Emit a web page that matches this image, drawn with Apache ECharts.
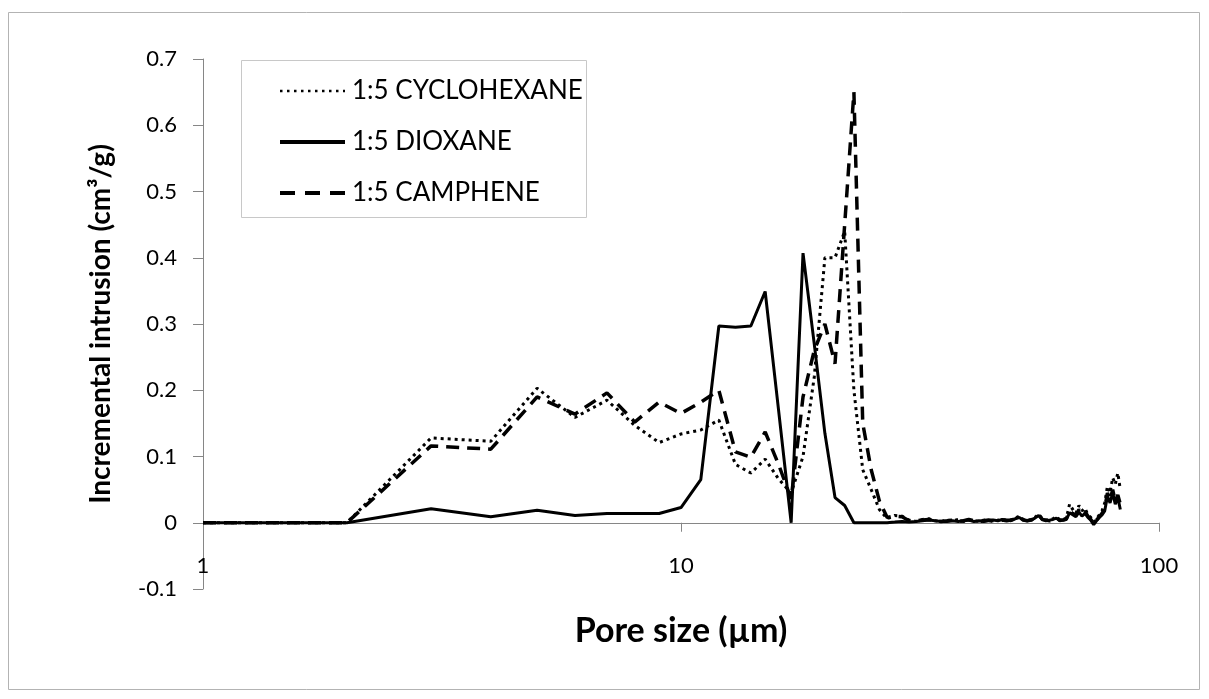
<!DOCTYPE html>
<html>
<head>
<meta charset="utf-8">
<script src="https://cdn.jsdelivr.net/npm/echarts@6/dist/echarts.min.js"></script>
<style>
  html, body { margin: 0; padding: 0; background: #fff; }
  #main { width: 1209px; height: 699px; }
</style>
</head>
<body>
<div id="main"></div>
<script>
// pore size (µm), one point per micron
var poreSize = [1, 2, 3, 4, 5, 6, 7, 8, 9, 10,
    11, 12, 13, 14, 15, 16, 17, 18, 19, 20,
    21, 22, 23, 24, 25, 26, 27, 28, 29, 30,
    31, 32, 33, 34, 35, 36, 37, 38, 39, 40,
    41, 42, 43, 44, 45, 46, 47, 48, 49, 50,
    51, 52, 53, 54, 55, 56, 57, 58, 59, 60,
    61, 62, 63, 64, 65, 66, 67, 68, 69, 70,
    71, 72, 73, 74, 75, 76, 77, 78, 79, 80,
    81, 82, 83];

var cyclohexane = [0, 0, 0.128, 0.123, 0.203, 0.159, 0.185, 0.147, 0.121, 0.134,
    0.140, 0.155, 0.088, 0.075, 0.096, 0.066, 0.045, 0.100, 0.220, 0.400,
    0.400, 0.440, 0.200, 0.080, 0.050, 0.020, 0.006, 0.011, 0.010, 0.004,
    0.002, 0.005, 0.006, 0.003, 0.002, 0.004, 0.003, 0.005, 0.002, 0.004,
    0.003, 0.002, 0.004, 0.003, 0.002, 0.004, 0.003, 0.005, 0.004, 0.007,
    0.010, 0.005, 0.003, 0.005, 0.008, 0.013, 0.006, 0.004, 0.005, 0.006,
    0.009, 0.004, 0.005, 0.007, 0.028, 0.020, 0.014, 0.026, 0.018, 0.022,
    0.012, 0.008, 0.001, 0.006, 0.012, 0.018, 0.030, 0.055, 0.045, 0.068,
    0.058, 0.075, 0.050];

var dioxane = [0, 0, 0.021, 0.009, 0.019, 0.011, 0.014, 0.014, 0.014, 0.023,
    0.065, 0.297, 0.295, 0.297, 0.349, 0.170, 0, 0.407, 0.270, 0.135,
    0.038, 0.026, 0, 0, 0, 0, 0, 0.001, 0.002, 0.001,
    0.002, 0.003, 0.004, 0.003, 0.002, 0.002, 0.003, 0.002, 0.003, 0.004,
    0.002, 0.003, 0.002, 0.003, 0.004, 0.003, 0.005, 0.004, 0.003, 0.006,
    0.008, 0.004, 0.003, 0.004, 0.007, 0.011, 0.005, 0.003, 0.004, 0.005,
    0.007, 0.003, 0.004, 0.005, 0.015, 0.012, 0.009, 0.016, 0.010, 0.014,
    0.008, 0.004, -0.003, 0.003, 0.008, 0.012, 0.018, 0.040, 0.030, 0.045,
    0.028, 0.038, 0.020];

var camphene = [0, 0, 0.116, 0.111, 0.190, 0.164, 0.196, 0.152, 0.182, 0.165,
    0.182, 0.200, 0.107, 0.099, 0.137, 0.088, 0.036, 0.190, 0.260, 0.300,
    0.240, 0.450, 0.650, 0.150, 0.080, 0.033, 0.008, 0.010, 0.009, 0.003,
    0.003, 0.004, 0.005, 0.003, 0.002, 0.003, 0.004, 0.002, 0.003, 0.005,
    0.003, 0.002, 0.003, 0.004, 0.003, 0.002, 0.004, 0.003, 0.004, 0.006,
    0.009, 0.004, 0.003, 0.004, 0.007, 0.012, 0.005, 0.004, 0.003, 0.005,
    0.008, 0.004, 0.004, 0.006, 0.018, 0.014, 0.011, 0.020, 0.013, 0.017,
    0.010, 0.005, -0.002, 0.004, 0.009, 0.014, 0.022, 0.045, 0.034, 0.050,
    0.032, 0.042, 0.028];

var seriesNames = ['1:5 CYCLOHEXANE', '1:5 DIOXANE', '1:5 CAMPHENE'];

var pairs = function (vals) {
    return poreSize.map(function (x, i) { return [x, vals[i]]; });
};

var font = 'Lato, "Open Sans", sans-serif';
var axisGray = '#868686';

var myChart = echarts.init(document.getElementById('main'));
myChart.setOption({
    animation: false,
    backgroundColor: '#fff',
    textStyle: { fontFamily: font },
    graphic: [
        // outer chart frame
        { type: 'rect', shape: { x: 8.5, y: 12.5, width: 1191, height: 677 },
          style: { fill: 'none', stroke: '#b3b3b3', lineWidth: 1 }, silent: true },
        // legend frame
        { type: 'rect', shape: { x: 241.5, y: 60.5, width: 345, height: 157 },
          style: { fill: '#fff', stroke: '#c8c8c8', lineWidth: 1 }, silent: true, z: 5 }
    ],
    grid: { left: 203, right: 50, top: 59, bottom: 110, containLabel: false, outerBoundsMode: 'none' },
    legend: {
        data: [
            { name: seriesNames[0], lineStyle: { width: 2.5, type: [2.5, 4.5] } },
            { name: seriesNames[1], lineStyle: { width: 4 } },
            { name: seriesNames[2], lineStyle: { width: 4, type: [15, 10] } }
        ],
        orient: 'vertical',
        left: 273,
        top: 71,
        itemWidth: 65,
        itemHeight: 14,
        itemGap: 21,
        z: 10,
        itemStyle: { color: 'rgba(0,0,0,0)', borderWidth: 0 },
        textStyle: { fontFamily: font, fontSize: 26, lineHeight: 30, color: '#000', padding: [0, 0, 0, 2] }
    },
    xAxis: {
        type: 'log',
        logBase: 10,
        min: 1,
        max: 100,
        name: 'Pore size (µm)',
        nameLocation: 'middle',
        nameGap: 25,
        nameTextStyle: { fontFamily: font, fontSize: 34, fontWeight: 'bold', color: '#000' },
        axisLine: { onZero: true, lineStyle: { color: axisGray, width: 1 } },
        axisTick: { show: true, inside: false, length: 9, lineStyle: { color: axisGray } },
        minorTick: { show: false },
        axisLabel: { margin: -34, fontSize: 22, color: '#000', fontFamily: font },
        splitLine: { show: false }
    },
    yAxis: {
        type: 'value',
        min: -0.1,
        max: 0.7,
        interval: 0.1,
        name: 'Incremental intrusion (cm³/g)',
        nameLocation: 'middle',
        nameGap: 88,
        nameTextStyle: { fontFamily: font, fontSize: 28, fontWeight: 'bold', color: '#000' },
        axisLine: { show: true, onZero: false, lineStyle: { color: axisGray, width: 1 } },
        axisTick: { show: true, inside: false, length: 10, lineStyle: { color: axisGray } },
        axisLabel: {
            margin: 26, fontSize: 22, color: '#000', fontFamily: font,
            formatter: function (v) { return Math.round(v * 10) / 10 + ''; }
        },
        splitLine: { show: false }
    },
    series: [
        {
            name: seriesNames[0], type: 'line', data: pairs(cyclohexane),
            showSymbol: false, symbol: 'none', z: 3,
            lineStyle: { color: '#000', width: 3, type: [3, 4] },
            itemStyle: { color: '#000' }
        },
        {
            name: seriesNames[1], type: 'line', data: pairs(dioxane),
            showSymbol: false, symbol: 'none', z: 4,
            lineStyle: { color: '#000', width: 3, type: 'solid' },
            itemStyle: { color: '#000' }
        },
        {
            name: seriesNames[2], type: 'line', data: pairs(camphene),
            showSymbol: false, symbol: 'none', z: 3,
            lineStyle: { color: '#000', width: 3.5, type: [13, 8] },
            itemStyle: { color: '#000' }
        }
    ]
});
</script>
</body>
</html>
